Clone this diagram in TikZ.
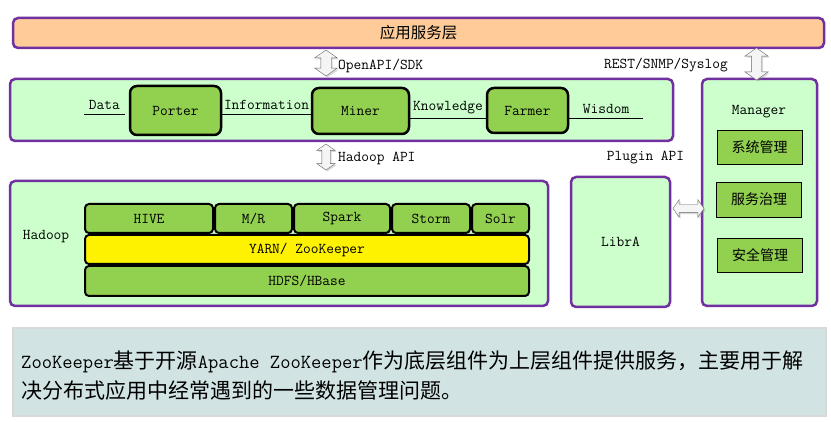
\documentclass[tikz,border=0pt]{standalone}
\usepackage{fontspec}
\newfontfamily\cjk{Noto Sans CJK SC}
\usetikzlibrary{shapes.arrows,shadows}
\definecolor{layerpurple}{HTML}{7030A0}
\definecolor{layergreen}{HTML}{CCFFCC}
\definecolor{leafgreen}{HTML}{92D050}
\definecolor{peach}{HTML}{FFCC99}
\definecolor{notegray}{HTML}{D1E4E3}
\newcommand{\notelatin}[1]{{\ttfamily\fontsize{20}{30}\selectfont #1}}
\begin{document}
\begin{tikzpicture}[x=1pt,y=-1pt,font=\ttfamily\fontsize{15}{17}\selectfont,
    layer/.style={draw=layerpurple,line width=2.5pt,rounded corners=5pt,fill=layergreen},
    engine/.style={draw=black,line width=2.5pt,rounded corners=7pt,fill=leafgreen,inner sep=0pt},
    stackbox/.style={draw=black,line width=2pt,rounded corners=4pt,fill=leafgreen,inner sep=0pt,minimum height=29},
    mgmtbox/.style={draw=black,line width=0.8pt,fill=leafgreen,inner sep=0pt,minimum width=85,minimum height=34,font=\cjk\fontsize{14}{16}\selectfont},
    blockarrow/.style={double arrow,draw=black!60,fill=black!4,inner xsep=0pt,double arrow tip angle=110,
      drop shadow={shadow xshift=1.5pt,shadow yshift=-1.5pt,opacity=0.3}},
    apilabel/.style={inner sep=1pt}]
  \useasboundingbox (0,0) rectangle (831,422);
  \node[layer,fill=peach,minimum width=811,minimum height=30,font=\cjk\fontsize{15.5}{17}\selectfont] (applayer) at (418.5,33) {应用服务层};
  \node[layer,minimum width=663,minimum height=62] (corelayer) at (341.5,110) {};
  \node[layer,minimum width=538,minimum height=125] (hadooplayer) at (279,243.5) {};
  \node[layer,minimum width=99,minimum height=130] (libra) at (620.5,242) {LibrA};
  \node[layer,minimum width=115,minimum height=227] (manager) at (759.5,192.5) {};
  \node (managerlabel) at (759,112) {Manager};
  \node (hadooplabel) at (46,237) {Hadoop};

  \node[engine,minimum width=91,minimum height=49] (porter) at (175.5,110.5) {Porter};
  \node[engine,minimum width=97,minimum height=46] (miner) at (360.5,111) {Miner};
  \node[engine,minimum width=81,minimum height=45] (farmer) at (527.5,110.5) {Farmer};
  \coordinate (datain) at (84,114);
  \coordinate (wisdomout) at (643,118);
  \draw (datain) -- node[above=1pt] {Data} ([xshift=-4pt]porter.west |- datain);
  \draw (porter.east |- 0,114) -- node[above=1pt] {Information} (miner.west |- 0,114);
  \draw (miner.east |- 0,118) -- node[above=1pt] {Knowledge} (farmer.west |- 0,118);
  \draw (farmer.east |- wisdomout) -- node[above=1pt] {Wisdom} (wisdomout);

  \node[stackbox,minimum width=128] (hive) at (149,218.5) {HIVE};
  \node[stackbox,minimum width=77] (mapred) at (253.5,218.5) {M/R};
  \node[stackbox,minimum width=96] (spark) at (342,218.5) {Spark};
  \node[stackbox,minimum width=78] (storm) at (431,218.5) {Storm};
  \node[stackbox,minimum width=57] (solr) at (500.5,218.5) {Solr};
  \node[stackbox,fill=yellow,minimum width=444] (yarn) at (307,249.5) {YARN/ ZooKeeper};
  \node[stackbox,minimum width=444,minimum height=30] (hdfs) at (307,281) {HDFS/HBase};

  \node[mgmtbox] (sysmgmt) at (759.5,147) {系统管理};
  \node[mgmtbox,minimum height=35] (svcgov) at (759,199.5) {服务治理};
  \node[mgmtbox] (secmgmt) at (760,255) {安全管理};

  \node[blockarrow,rotate=90,minimum height=26,inner ysep=5pt,double arrow head extend=6pt] (openapi) at (326,63) {};
  \node[blockarrow,rotate=90,minimum height=26,inner ysep=4pt,double arrow head extend=5pt] (hadoopapi) at (326,157) {};
  \node[blockarrow,rotate=90,minimum height=32,inner ysep=5pt,double arrow head extend=6.5pt] (restapi) at (756.5,64) {};
  \node[blockarrow,minimum height=31,inner ysep=4pt,double arrow head extend=4.5pt] (pluginapi) at (688.5,208.5) {};
  \node[apilabel,anchor=west] (openapilabel) at (337,66) {OpenAPI/SDK};
  \node[apilabel,anchor=west] (hadoopapilabel) at (337,158) {Hadoop API};
  \node[apilabel,anchor=east] (restlabel) at (729,65) {REST/SNMP/Syslog};
  \node[apilabel] (pluginlabel) at (645.5,158) {Plugin API};

  \node[draw=black!15,line width=2pt,fill=notegray,minimum width=813,minimum height=88] (note) at (419.5,372) {};
  \node[anchor=west,align=left,inner sep=0pt,font=\cjk\fontsize{21}{30}\selectfont] (notetext) at (21,376)
    {\notelatin{ZooKeeper}基于开源\notelatin{Apache ZooKeeper}作为底层组件为上层组件提供服务，主要用于解\\决分布式应用中经常遇到的一些数据管理问题。};
\end{tikzpicture}
\end{document}
